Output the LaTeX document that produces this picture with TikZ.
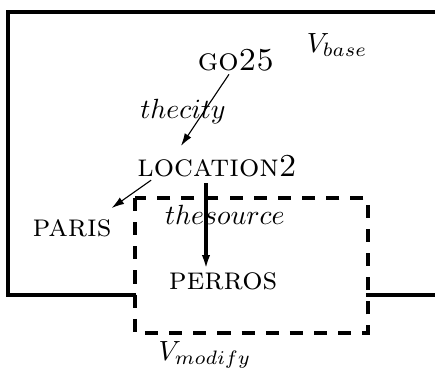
\documentclass[tikz,border=0pt]{standalone}
\usetikzlibrary{calc,arrows.meta}
\begin{document}
\begin{tikzpicture}[x=0.36pt, y=-0.36pt,
    word/.style = {inner sep=1pt},
    place/.style = {inner sep=1pt, font=\fontsize{11.5}{14}\selectfont\scshape},
    frame/.style = {line width=1.1pt},
    modify/.style = {line width=1.1pt, dash pattern=on 4.7pt off 4pt},
    link/.style = {-{Latex[length=4.5pt,width=2.8pt]}, line width=0.4pt},
    thicklink/.style = {-{Latex[length=5pt,width=3pt]}, line width=1.1pt}]
    \useasboundingbox (0,0) rectangle (435,372);
    \draw[frame] (136,295) -- (8,295) -- (8,12) -- (435,12);
    \draw[frame] (366,295) -- (435,295);
    \draw[modify] (135,198) rectangle (368,333);
    \node[place] (go) at (236,60) {go25};
    \node[place] (loc) at (217,166) {location2};
    \node[place] (paris) at (72,228) {paris};
    \node[place] (perros) at (223,281) {perros};
    \node[word] (city) at (183,112) {$thecity$};
    \node[word] (source) at (225,215) {$thesource$};
    \node[word] (base) at (337,45) {$V_{base}$};
    \node[word] (modify) at (205,355) {$V_{modify}$};
    \draw[link] ($(go.south)+(-7,0)$) -- ($(loc.north)+(-36,-6)$);
    \draw[link] ($(loc.south west)+(17,0)$) -- ($(paris.north east)+(-3,-8)$);
    \draw[thicklink] ($(loc.south)+(-11,3)$) -- ($(perros.north)+(-17,0)$);
\end{tikzpicture}
\end{document}
